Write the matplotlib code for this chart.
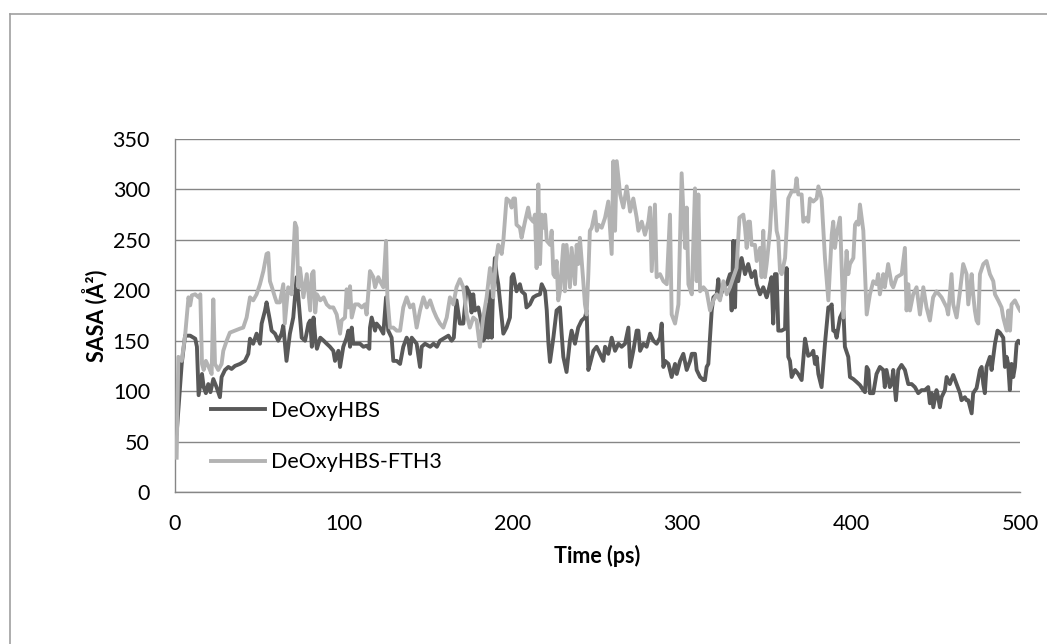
import matplotlib.pyplot as plt
import numpy as np

# DeOxyHBS (dark) - time (ps), SASA (A^2)
t_hbs = [1, 4, 6, 9, 12, 13, 14, 16, 17, 18.3, 19.7, 21, 22.7, 24.6, 26.6, 27.6, 29.6, 31.6, 33.5, 35.5,
         38.5, 41.4, 43.4, 44.4, 46.3, 48.3, 50.3, 51.3, 53.3, 54.2, 56.2, 57.2, 59.2, 61.1, 63.1, 64.1, 66, 68, 70, 72,
         74, 75, 77, 79, 80, 81, 82, 83, 84, 86, 88, 89.8, 91.7, 93.7, 94.7, 96.7, 97.7, 99.6, 101.6, 102.6,
         103.6, 104.6, 105.5, 107.5, 109.5, 111.5, 113.4, 115, 115.4, 116.4, 118.4, 119.3, 121.3, 123.3, 124.9, 126.2, 128.2, 129.2, 131.2, 133.2,
         135.1, 137.1, 138.1, 139.1, 140.1, 143, 145, 146, 148, 151, 153, 155, 156.8, 159.8, 161.8, 163.7, 165,
         166.6, 168.6, 170.6, 172.6, 174.5, 175.5, 176.5, 177.5, 179.5, 181.4, 182.4, 183.4, 184.4, 185.4, 186.4, 187.4, 188.3, 189.3, 190.3,
         191.3, 192.3, 194.3, 196.2, 198.2, 199.2, 200.2, 202.1, 204.1, 205.1, 207.1, 208, 210, 212, 214, 216, 217, 219, 220, 221,
         221.9, 223.9, 225.8, 227.8, 228.8, 229.8, 231.7, 233.7, 234.7, 236.7, 238.6, 240.6, 242.6, 243.6, 244.6,
         245.6, 247.6, 249.5, 251.5, 253.5, 254.5, 256.4, 258.4, 260.4, 262.4, 264.3, 266.3, 268.3, 269.3, 271.2, 273.2, 274.2, 275.2, 277.2, 279.1,
         281.1, 283.1, 285, 287, 288, 289, 290, 292, 293.9, 295.9, 296.9, 298.9, 300.8, 302.8, 304.8, 305.8, 307.7, 308.7, 310.7, 312.7,
         313.6, 314.6, 315.6, 316.6, 317.6, 318.6, 320.6, 321.5, 322.5, 324.5, 326.5, 328.4,
         329.4, 330.4, 331.4, 332.3, 333.3, 335.3, 337.3, 339.2, 340.2, 341.2, 343.2, 344.2, 346.2, 348.1, 350.1, 351.1, 353, 354, 355, 356,
         357, 359, 361, 361.9, 362.9, 363.9, 364.9, 366.9, 368.8, 370.8, 372.8, 373.7, 374.7, 376.7, 377.7, 378.7, 379.7, 380.7, 382.6, 384.6,
         386.6, 387.6, 388.6, 389.5, 390.5, 391.5, 393.5, 395.5, 396.4, 398.4, 399.4, 401.4, 403.4, 405.3, 407.3, 408.3, 409.3, 410.3,
         411.2, 413.2, 415.1, 417.1, 419.1, 420, 421, 423, 424, 425, 426.6, 428, 429.9, 431.9, 433.9, 435.9, 437.8, 439.8, 441.8, 443.7,
         445.7, 446.7, 447.7, 448.7, 450.6, 451.6, 452.6, 453.6, 455.6, 456.6, 458.5, 460.5, 462.5, 464.5, 465.4, 467.4, 468.4, 469.4, 471.4, 472.3,
         474.3, 476.3, 477.3, 478.3, 479.2, 480.2, 482.2, 483.2, 484.2, 485.2, 486.7, 488.1, 490.1, 491.1, 492.1, 493, 494, 495, 496, 497,
         498, 499, 500]
v_hbs = [58, 127, 155, 155, 152, 144, 96, 117, 104, 98, 107, 99, 112, 104, 94, 114, 121, 124, 122, 125,
         127, 130, 137, 152, 147, 157, 147, 167, 180, 188, 170, 160, 157, 150, 157, 165, 130, 157, 173, 213,
         173, 153, 150, 167, 170, 144, 173, 153, 142, 153, 150, 147, 144, 140, 130, 140, 124, 144, 153, 160,
         144, 163, 147, 147, 147, 144, 145, 142, 163, 173, 160, 167, 163, 157, 193, 160, 153, 130, 130, 127,
         144, 153, 150, 137, 153, 147, 124, 144, 147, 144, 147, 144, 150, 153, 155, 150, 153,
         190, 167, 167, 203, 196, 178, 196, 180, 183, 167, 150, 153, 186, 153, 199, 153, 206, 232, 216,
         206, 190, 157, 163, 173, 213, 216, 199, 206, 199, 196, 183, 186, 193, 195, 196, 206, 199, 180, 147,
         129, 153, 180, 183, 157, 134, 119, 150, 160, 147, 163, 170, 173, 180, 121,
         127, 140, 144, 137, 130, 144, 137, 153, 140, 147, 144, 147, 163, 124, 140, 160, 160, 140, 147, 144,
         157, 150, 147, 153, 167, 124, 130, 127, 114, 127, 117, 130, 137, 121, 130, 137, 137, 121, 114, 111,
         111, 124, 127, 153, 180, 193, 196, 211, 193, 203, 206, 216,
         180, 249, 183, 249, 209, 232, 216, 226, 219, 213, 219, 206, 196, 203, 193, 199, 213, 167, 216, 216,
         160, 160, 162, 222, 134, 130, 114, 121, 117, 111, 152, 144, 135, 137, 140, 127, 134, 117, 104, 147,
         183, 183, 186, 160, 160, 153, 173, 180, 144, 134, 114, 112, 109, 106, 101, 99, 124, 121,
         98, 98, 117, 124, 121, 104, 121, 104, 107, 121, 91, 121, 126, 121, 107, 107, 104, 98, 101, 101,
         104, 88, 98, 84, 101, 94, 84, 94, 101, 114, 107, 116, 107, 98, 91, 94, 91, 91, 78, 98,
         103, 121, 124, 107, 98, 124, 134, 121, 134, 147, 160, 158, 153, 124, 134, 127, 101, 127, 114, 124,
         147, 150, 148]

# DeOxyHBS-FTH3 (light)
t_fth = [1, 2, 4, 6, 8, 9, 10, 12, 14, 15, 16, 17, 18.3, 19.7, 21.7, 22.7, 23.7, 25.6, 27.6, 28.6,
         30.6, 32.5, 35.5, 38.5, 40.4, 42.4, 44.4, 46.3, 48.3, 50.3, 52.3, 54.2, 55.2, 56.2, 57.2, 59.2, 60.2, 62.1, 64.1, 65,
         67, 69, 71, 72, 73, 74, 76, 78, 80, 81, 82, 83, 84, 86, 88, 89.8, 91.7, 93.7, 95.7, 97.7,
         98.6, 100.6, 101.6, 102.6, 103.6, 104.6, 106.5, 108.5, 110.5, 112.4, 113.4, 115.4, 117.4, 118.4, 120.3, 122.3, 123.3, 124.9, 125.7, 127.2,
         129.2, 131.2, 133.2, 135.1, 137.1, 139.1, 141, 143, 145, 147, 149, 151, 153, 154.8, 156.8, 158.8, 160.8, 162.7,
         164.7, 166.6, 168.6, 170.6, 172.6, 174.5, 176.5, 178.5, 180.4, 182.4, 184.4, 186.4, 187.4, 188.3, 189.3, 190.3, 191.3, 192.3, 193.3, 194.3,
         196.2, 198.2, 199.2, 200.2, 201.2, 202.1, 204.1, 205.1, 207.1, 209, 210, 212, 213, 214, 215, 216, 217, 218, 219, 220,
         222, 222.9, 223.9, 224.9, 225.8, 226.8, 227.8, 229.8, 230.7, 231.7, 233.7, 234.7, 236.7, 237.7, 238.6, 239.6, 241.6, 242.6, 243.6, 244.6,
         245.5, 246.6, 248.6, 249.6, 250.6, 252.5, 254.5, 256.4, 258.4, 259.4, 260.4, 261.4, 263.4, 265.3, 267.3, 269.3, 271.2, 273.2, 274.2, 276.2,
         278.1, 280.1, 281.1, 282.1, 284, 285, 287, 289, 291, 292.9, 293.9, 295.9, 297.9, 299.8, 301.8, 302.8, 303.8, 305.8, 307.7, 308.7,
         309.7, 310.7, 312.7, 314.6, 316.6, 318.6, 320.6, 322.5, 324.5, 326.5, 328.4, 330.4, 332.3, 334,
         336.3, 337.3, 338.3, 339.2, 340.2, 341.2, 343.2, 344.2, 346.2, 347.1, 348.1, 349.1, 350.1, 352.1, 354, 356, 357, 358, 359, 361,
         362.9, 364.9, 366.9, 367.8, 368.8, 370.8, 371.8, 373.7, 374.7, 375.7, 377.7, 379.7, 380.7, 382.6, 384.6, 386.6, 388.6, 389.5, 390.5, 391.5,
         393.5, 395.5, 397.4, 398.4, 399.4, 401.4, 402.4, 403.4, 404.4, 405.3, 407.3, 409.3, 411.2,
         413.2, 415.1, 416.1, 417.1, 419.1, 420, 422, 424, 425, 427, 430, 431.9, 432.9, 433.9, 434.9, 436.8, 438.8, 440.8, 442.8, 444.7,
         446.7, 448.6, 450.6, 453.6, 456.6, 457.5, 459.5, 460.5, 462.5, 464.5, 466.4, 468.4, 469.4, 471.4, 472.3, 473.3, 474.3, 475.3, 476.3, 478.3,
         480.2, 482.2, 484.2, 485.2, 487.1, 489.1, 490.1, 492.1, 493.1, 494.1, 495, 497, 499, 500]
v_fth = [34, 134, 130, 155, 193, 185, 195, 196, 193, 196, 127, 121, 130, 125, 117, 191, 127, 121, 127, 140,
         150, 158, 160, 162, 163, 173, 193, 190, 196, 206, 219, 236, 237, 209, 204, 193, 188, 188, 206, 167,
         203, 196, 267, 262, 203, 222, 193, 216, 180, 216, 219, 178, 196, 190, 193, 186, 183, 183, 176, 157,
         170, 173, 201, 183, 204, 173, 186, 186, 183, 186, 176, 219, 213, 203, 213, 206, 203, 249, 193, 163,
         163, 160, 160, 183, 193, 183, 186, 163, 180, 193, 183, 190, 180, 173, 167, 163, 173, 193,
         186, 203, 211, 203, 176, 163, 173, 170, 144, 173, 193, 222, 213, 193, 216, 234, 245, 242, 236, 249,
         291, 288, 282, 291, 291, 265, 262, 252, 268, 282, 272, 268, 275, 222, 305, 226, 275, 262, 275, 249,
         245, 259, 216, 213, 229, 190, 199, 245, 199, 245, 203, 242, 206, 245, 226, 252, 209, 186, 176, 216,
         259, 262, 278, 259, 265, 262, 272, 288, 236, 328, 259, 328, 295, 282, 303, 278, 291, 272, 259, 268,
         255, 268, 282, 219, 285, 213, 216, 209, 206, 275, 176, 167, 186, 316, 242, 282, 206, 196, 301, 209,
         295, 199, 203, 199, 180, 190, 196, 190, 209, 196, 203, 213, 222, 272,
         275, 262, 242, 268, 268, 245, 245, 229, 242, 213, 259, 213, 226, 259, 318, 259, 252, 219, 216, 232,
         291, 298, 298, 311, 295, 295, 268, 272, 268, 291, 288, 291, 303, 291, 232, 190, 255, 268, 242, 255,
         272, 173, 239, 216, 226, 232, 265, 268, 265, 285, 259, 176, 196,
         209, 206, 216, 196, 216, 203, 226, 206, 203, 213, 216, 242, 180, 206, 180, 196, 203, 176, 203, 183,
         170, 193, 199, 193, 183, 176, 216, 186, 173, 199, 226, 216, 186, 216, 196, 180, 170, 167, 216, 226,
         229, 216, 209, 196, 190, 183, 173, 160, 180, 160, 186, 190, 183, 180]

plt.rcParams['font.family'] = ['Lato', 'DejaVu Sans']
fs = 15.5

fig = plt.figure(figsize=(10.47, 6.44), dpi=100)
ax = fig.add_axes([0.1671, 0.236, 0.8071, 0.5482])

ax.plot(t_hbs, v_hbs, color='#595959', lw=2.8, label='DeOxyHBS', zorder=3)
ax.plot(t_fth, v_fth, color='#b3b3b3', lw=2.8, label='DeOxyHBS-FTH3', zorder=3)

ax.set_xlim(0, 500)
ax.set_ylim(0, 350)
ax.set_xticks(np.arange(0, 501, 100))
ax.set_yticks(np.arange(0, 351, 50))
ax.grid(axis='y', color='#868686', lw=1)
ax.set_axisbelow(True)
for s in ['top', 'right']:
    ax.spines[s].set_visible(False)
for s in ['left', 'bottom']:
    ax.spines[s].set_color('#868686')
    ax.spines[s].set_linewidth(1)
ax.tick_params(length=0, labelsize=fs, colors='black')
ax.tick_params(axis='y', pad=18)
ax.tick_params(axis='x', pad=16)

ax.set_xlabel('Time (ps)', fontsize=fs, fontweight='bold', labelpad=8)
ax.set_ylabel('SASA (Å²)', fontsize=fs, fontweight='bold', labelpad=4)

ax.legend(loc='center left', bbox_to_anchor=(0.0426, 0.157), frameon=False,
          fontsize=fs, handlelength=2.5, handletextpad=0.3, labelspacing=1.45,
          borderpad=0, borderaxespad=0)

# chart border (left and top only visible)
fig.add_artist(plt.Line2D([9.5 / 1047, 9.5 / 1047], [0, 1 - 13.5 / 644], color='#a0a0a0', lw=1.2))
fig.add_artist(plt.Line2D([9.5 / 1047, 1], [1 - 13.5 / 644, 1 - 13.5 / 644], color='#a0a0a0', lw=1.2))

fig.savefig('out.png', dpi=100)
